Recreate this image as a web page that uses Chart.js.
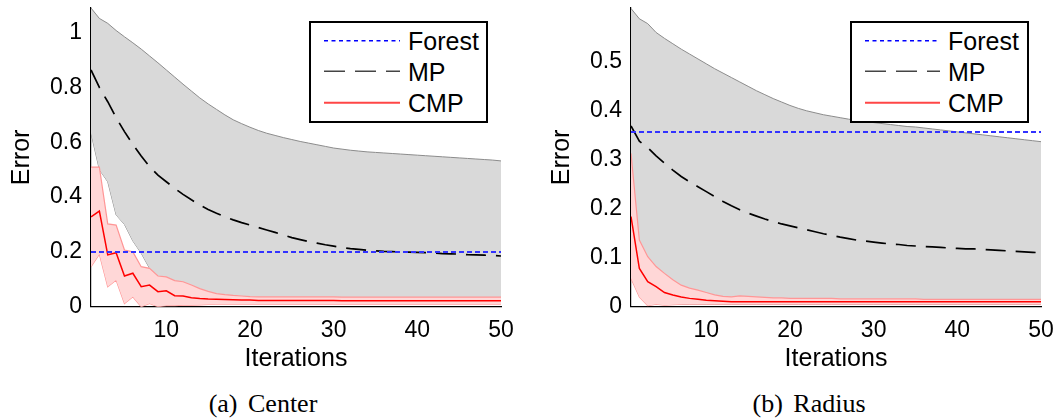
<!DOCTYPE html>
<html><head><meta charset="utf-8">
<script src="https://cdn.jsdelivr.net/npm/chart.js@4.4.1/dist/chart.umd.min.js"></script>
<style>
html,body{margin:0;padding:0;background:#fff;}
#wrap{position:relative;width:1058px;height:419px;overflow:hidden;font-family:"Liberation Sans",Arial,sans-serif;}
canvas{position:absolute;top:0;}
.legend{position:absolute;top:21px;width:175px;height:98px;border:2px solid #000;background:#fff;}
.legend svg{position:absolute;left:0;top:0;}
.legend span{position:absolute;font-size:25px;line-height:30px;color:#000;white-space:nowrap;}
.cap{position:absolute;top:389px;width:240px;text-align:center;font-family:"Liberation Serif","Times New Roman",serif;font-size:26px;line-height:30px;color:#000;word-spacing:4px;}
</style></head>
<body><div id="wrap">
<canvas id="c1" width="540" height="380" style="left:0"></canvas>
<canvas id="c2" width="518" height="380" style="left:540px"></canvas>
<div class="legend" id="lg1" style="left:309px"></div>
<div class="legend" id="lg2" style="left:850px"></div>
<div class="cap" style="left:143px">(a) Center</div>
<div class="cap" style="left:689px">(b) Radius</div>
</div>
<script>
// ---------- data ----------
const iterations = [1,2,3,4,5,6,7,8,9,10,11,12,13,14,15,16,17,18,19,20,21,22,23,24,25,26,27,28,29,30,31,32,33,34,35,36,37,38,39,40,41,42,43,44,45,46,47,48,49,50];
const xTickValues = [10,20,30,40,50];
const xTickLabels = ['10','20','30','40','50'];
const centerYTicks = [0,0.2,0.4,0.6,0.8,1];
const centerYLabels = ['0','0.2','0.4','0.6','0.8','1'];
const radiusYTicks = [0,0.1,0.2,0.3,0.4,0.5];
const radiusYLabels = ['0','0.1','0.2','0.3','0.4','0.5'];
const seriesNames = ['Forest','MP','CMP'];
const forestX = [1,50];
const centerForest = [0.2,0.2];
const radiusForest = [0.357,0.357];

const centerMP = [0.864,0.80,0.748,0.69,0.639,0.592,0.55,0.511,0.48,0.456,
  0.432,0.41,0.39,0.371,0.355,0.341,0.328,0.317,0.307,0.298,
  0.289,0.28,0.271,0.262,0.252,0.245,0.238,0.232,0.226,0.221,
  0.216,0.212,0.209,0.206,0.204,0.202,0.201,0.200,0.199,0.198,
  0.197,0.196,0.194,0.193,0.192,0.190,0.189,0.188,0.187,0.185];
const centerMPUpper = [1.09,1.052,1.034,1.008,0.985,0.963,0.94,0.915,0.89,0.864,
  0.838,0.812,0.787,0.762,0.74,0.72,0.70,0.682,0.668,0.655,
  0.643,0.633,0.625,0.617,0.61,0.603,0.597,0.591,0.585,0.579,
  0.575,0.571,0.568,0.565,0.563,0.561,0.559,0.557,0.555,0.553,
  0.551,0.549,0.547,0.545,0.543,0.541,0.539,0.537,0.535,0.532];
const centerMPLower = [0.633,0.50,0.456,0.335,0.30,0.24,0.195,0.14,0.10,0.075,
  0.06,0.048,0.04,0.033,0.028,0.024,0.022,0.02,0.019,0.018,
  0.018,0.017,0.017,0.016,0.016,0.016,0.015,0.015,0.015,0.015,
  0.015,0.015,0.015,0.015,0.015,0.015,0.015,0.015,0.015,0.015,
  0.015,0.015,0.015,0.015,0.015,0.015,0.015,0.015,0.015,0.015];
const centerCMP = [0.328,0.349,0.189,0.197,0.112,0.122,0.073,0.079,0.055,0.058,
  0.040,0.039,0.033,0.030,0.028,0.027,0.026,0.025,0.024,0.024,
  0.023,0.023,0.023,0.023,0.023,0.023,0.023,0.023,0.023,0.023,
  0.022,0.022,0.022,0.022,0.022,0.022,0.022,0.022,0.022,0.022,
  0.022,0.022,0.022,0.022,0.022,0.022,0.022,0.022,0.022,0.022];
const centerCMPUpper = [0.509,0.509,0.302,0.298,0.207,0.200,0.146,0.140,0.112,0.109,
  0.095,0.091,0.079,0.066,0.056,0.048,0.044,0.041,0.039,0.037,
  0.036,0.036,0.036,0.036,0.036,0.036,0.036,0.036,0.036,0.036,
  0.035,0.035,0.035,0.035,0.035,0.035,0.035,0.035,0.035,0.035,
  0.035,0.035,0.035,0.035,0.035,0.035,0.035,0.035,0.035,0.035];
const centerCMPLower = [0.146,0.192,0.073,0.097,0.012,0.036,0.0,0.012,0.0,0.004,
  0.004,0.006,0.006,0.007,0.008,0.009,0.009,0.009,0.009,0.009,
  0.009,0.009,0.009,0.009,0.009,0.009,0.009,0.009,0.009,0.009,
  0.009,0.009,0.009,0.009,0.009,0.009,0.009,0.009,0.009,0.009,
  0.009,0.009,0.009,0.009,0.009,0.009,0.009,0.009,0.009,0.009];

const radiusMP = [0.369,0.338,0.325,0.308,0.293,0.279,0.266,0.255,0.245,0.235,
  0.225,0.215,0.206,0.198,0.191,0.185,0.179,0.174,0.169,0.165,
  0.161,0.157,0.153,0.149,0.146,0.142,0.139,0.136,0.134,0.132,
  0.130,0.128,0.127,0.125,0.124,0.123,0.122,0.121,0.120,0.119,
  0.118,0.118,0.117,0.116,0.115,0.114,0.113,0.112,0.111,0.110];
const radiusMPUpper = [0.609,0.588,0.578,0.56,0.548,0.537,0.526,0.516,0.506,0.496,
  0.486,0.477,0.468,0.459,0.45,0.441,0.433,0.425,0.418,0.411,
  0.405,0.40,0.396,0.392,0.389,0.386,0.383,0.380,0.378,0.376,
  0.374,0.372,0.37,0.368,0.367,0.365,0.363,0.361,0.359,0.357,
  0.355,0.353,0.351,0.349,0.347,0.345,0.343,0.341,0.339,0.337];
const radiusMPLower = [0.06,0.022,0.005,0.005,0.005,0.005,0.005,0.005,0.005,0.005,
  0.005,0.005,0.005,0.005,0.005,0.005,0.005,0.005,0.005,0.005,
  0.005,0.005,0.005,0.005,0.005,0.005,0.005,0.005,0.005,0.005,
  0.005,0.005,0.005,0.005,0.005,0.005,0.005,0.005,0.005,0.005,
  0.005,0.005,0.005,0.005,0.005,0.005,0.005,0.005,0.005,0.005];
const radiusCMP = [0.184,0.078,0.051,0.041,0.029,0.024,0.020,0.017,0.015,0.013,
  0.012,0.011,0.010,0.010,0.010,0.010,0.010,0.010,0.010,0.010,
  0.010,0.010,0.010,0.010,0.010,0.010,0.010,0.010,0.010,0.010,
  0.010,0.010,0.010,0.010,0.010,0.010,0.010,0.010,0.010,0.010,
  0.010,0.010,0.010,0.010,0.010,0.010,0.010,0.010,0.010,0.010];
const radiusCMPUpper = [0.313,0.136,0.102,0.082,0.068,0.055,0.044,0.038,0.034,0.029,
  0.024,0.021,0.020,0.022,0.021,0.020,0.019,0.018,0.018,0.017,
  0.017,0.017,0.017,0.017,0.017,0.016,0.016,0.016,0.016,0.016,
  0.016,0.016,0.016,0.016,0.016,0.015,0.015,0.015,0.015,0.015,
  0.015,0.015,0.015,0.015,0.015,0.015,0.015,0.015,0.015,0.015];
const radiusCMPLower = [0.058,0.02,0.002,0.005,0.003,0.004,0.005,0.005,0.005,0.005,
  0.005,0.005,0.005,0.005,0.005,0.005,0.005,0.005,0.005,0.005,
  0.005,0.005,0.005,0.005,0.005,0.005,0.005,0.005,0.005,0.005,
  0.005,0.005,0.005,0.005,0.005,0.005,0.005,0.005,0.005,0.005,
  0.005,0.005,0.005,0.005,0.005,0.005,0.005,0.005,0.005,0.005];

// ---------- styles ----------
const FONT = '"Liberation Sans", Arial, sans-serif';
const BLUE = 'rgb(50,50,255)', RED = 'rgb(255,0,0)', PINK_EDGE = 'rgb(255,150,150)', PINK_FILL = 'rgb(255,215,215)';
const GREY_EDGE = 'rgb(140,140,140)', GREY_FILL = 'rgb(217,217,217)';
Chart.defaults.color = '#000';
Chart.defaults.font.family = FONT;

const pts = (xs, ys) => xs.map((x, i) => ({x: x, y: ys[i]}));

function makeChart(id, d, yMax, yTicks, yLabels, padRight) {
  const line = (data, color, width, extra) => Object.assign({
    data: data, borderColor: color, borderWidth: width, pointRadius: 0, tension: 0, fill: false
  }, extra || {});
  return new Chart(document.getElementById(id), {
    type: 'line',
    data: { datasets: [
      line(pts(forestX, d.forest), BLUE, 2, {label: seriesNames[0], borderDash: [5,3]}),
      line(pts(iterations, d.cmp), RED, 1.5, {label: seriesNames[2]}),
      line(pts(iterations, d.mp), '#000', 1.7, {label: seriesNames[1], borderDash: [20,10]}),
      line(pts(iterations, d.cmpU), PINK_EDGE, 1.2, {fill: '+1', backgroundColor: PINK_FILL}),
      line(pts(iterations, d.cmpL), PINK_EDGE, 1.2),
      line(pts(iterations, d.mpU), GREY_EDGE, 1, {fill: '+1', backgroundColor: GREY_FILL}),
      line(pts(iterations, d.mpL), GREY_EDGE, 1)
    ]},
    options: {
      responsive: false, animation: false, devicePixelRatio: 1,
      layout: { padding: {top: 8, right: padRight, left: 0, bottom: 0} },
      plugins: { legend: {display: false}, tooltip: {enabled: false} },
      scales: {
        x: {
          type: 'linear', min: 1, max: 50,
          grid: {display: false, drawTicks: false},
          border: {display: true, color: '#000', width: 1.2},
          afterBuildTicks: s => { s.ticks = xTickValues.map(v => ({value: v})); },
          afterFit: s => { s.height = 73.3; s.paddingLeft = 0; s.paddingRight = 0; },
          ticks: { autoSkip: false, maxRotation: 0, padding: 10, font: {size: 23},
                   callback: (v, i) => xTickLabels[i] },
          title: { display: true, text: 'Iterations', font: {size: 25}, padding: {top: 0, bottom: 6} }
        },
        y: {
          min: 0, max: yMax,
          grid: {display: false, drawTicks: false},
          border: {display: true, color: '#000', width: 1.2},
          afterBuildTicks: s => { s.ticks = yTicks.map(v => ({value: v})); },
          afterFit: s => { s.width = 91; s.paddingTop = 0; s.paddingBottom = 0; },
          ticks: { padding: 9, font: {size: 23}, callback: (v, i) => yLabels[i] },
          title: { display: true, text: 'Error', font: {size: 25}, padding: {top: 7, bottom: 0} }
        }
      }
    }
  });
}

makeChart('c1', {forest: centerForest, mp: centerMP, mpU: centerMPUpper, mpL: centerMPLower,
  cmp: centerCMP, cmpU: centerCMPUpper, cmpL: centerCMPLower}, 1.09, centerYTicks, centerYLabels, 39);
makeChart('c2', {forest: radiusForest, mp: radiusMP, mpU: radiusMPUpper, mpL: radiusMPLower,
  cmp: radiusCMP, cmpU: radiusCMPUpper, cmpL: radiusCMPLower}, 0.61, radiusYTicks, radiusYLabels, 17);

// ---------- legends (HTML, real text) ----------
const legendStyles = [
  {color: 'rgb(0,0,255)', width: 1.5, dash: '4 3.5'},
  {color: '#444', width: 1.6, dash: '21 10'},
  {color: 'rgb(255,70,70)', width: 2, dash: ''}
];
const rowCenters = [17.7, 48.3, 79.7];
function buildLegend(id, x1, x2, textLeft) {
  const el = document.getElementById(id);
  let svg = '<svg width="175" height="98" xmlns="http://www.w3.org/2000/svg">';
  legendStyles.forEach((s, i) => {
    svg += '<line x1="' + x1 + '" x2="' + x2 + '" y1="' + rowCenters[i] + '" y2="' + rowCenters[i] +
      '" stroke="' + s.color + '" stroke-width="' + s.width + '"' + (s.dash ? ' stroke-dasharray="' + s.dash + '"' : '') + '/>';
  });
  svg += '</svg>';
  el.innerHTML = svg;
  seriesNames.forEach((n, i) => {
    const sp = document.createElement('span');
    sp.textContent = n;
    sp.style.left = textLeft + 'px';
    sp.style.top = (rowCenters[i] - 14.7) + 'px';
    el.appendChild(sp);
  });
}
buildLegend('lg1', 13, 89, 97);
buildLegend('lg2', 13, 88, 96);
</script>
</body></html>
